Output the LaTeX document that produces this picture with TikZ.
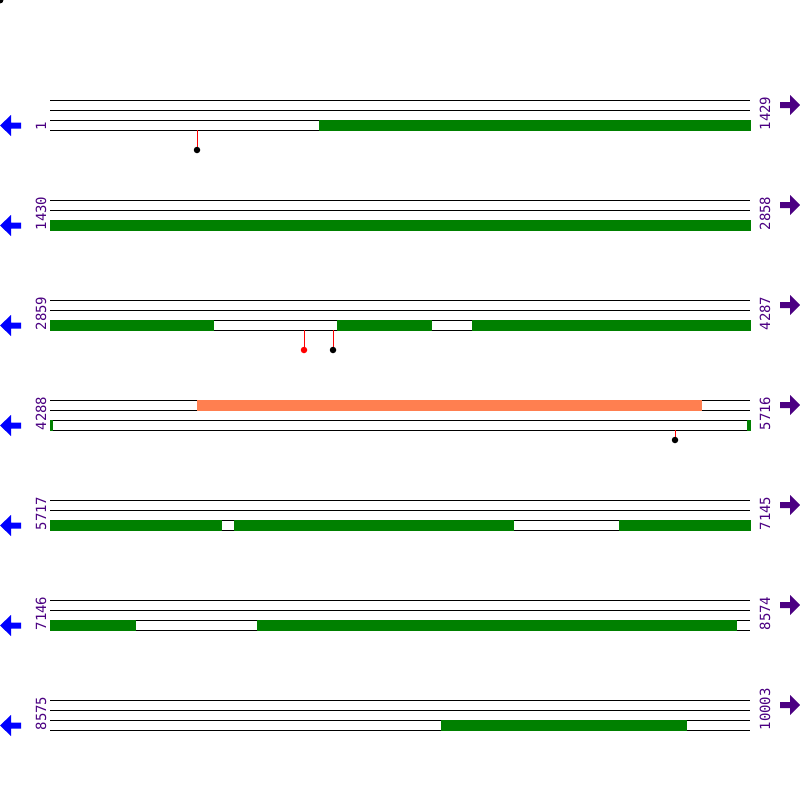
\documentclass[tikz,border=0pt]{standalone}
\usepackage{fontspec}
\newfontfamily\lblfont{DejaVu Sans Mono}
\definecolor{gr}{HTML}{008000}
\definecolor{orng}{HTML}{FF7F50}
\definecolor{purp}{HTML}{4B0082}
\definecolor{blu}{HTML}{0000FF}
\tikzset{
  lbl/.style={font=\lblfont\fontsize{14}{14}\selectfont, text=purp, inner sep=0pt, rotate=90, anchor=west},
  track/.style={line width=1pt, black},
  gbox/.style={fill=gr, draw=none},
  obox/.style={fill=orng, draw=none},
  stem/.style={red, line width=1pt},
  ldot/.style={circle, inner sep=0pt, minimum size=6.5pt},
  larr/.style={fill=blu, draw=none},
  rarr/.style={fill=purp, draw=none}
}
\begin{document}
\begin{tikzpicture}[x=1pt,y=-1pt]
\useasboundingbox (0,0) rectangle (800,800);
\fill[white] (0,0) rectangle (800,800);
\fill[black] (0,0) circle (3.5);
% tracks, arrows, labels
\foreach \k/\l/\r in {0/1/1429,1/1430/2858,2/2859/4287,3/4288/5716,4/5717/7145,5/7146/8574,6/8575/10003}{
  \pgfmathsetmacro{\yo}{100*\k}
  \begin{scope}[yshift={-\yo pt}]
    \foreach \y in {100,110,120,130} \draw[track] (50,\y) -- (750,\y);
    \fill[larr] (0,125.5) -- (11,115) -- (11,122.5) -- (21,122.5) -- (21,128.5) -- (11,128.5) -- (11,136) -- cycle;
    \fill[rarr] (800,105) -- (790,95) -- (790,102) -- (780,102) -- (780,108) -- (790,108) -- (790,115) -- cycle;
    \node[lbl] (L\k) at (41,130.5) {\l};
    \node[lbl] (R\k) at (765,130.5) {\r};
  \end{scope}
}
% row 1
\fill[gbox] (319,119.5) rectangle (751,130.5);
\draw[stem] (197,130) -- (197,150);
\node[ldot, fill=black] (d1) at (197,150) {};
% row 2
\fill[gbox] (50,219.5) rectangle (751,230.5);
% row 3
\fill[gbox] (50,319.5) rectangle (214,330.5);
\fill[gbox] (337,319.5) rectangle (432,330.5);
\fill[gbox] (472,319.5) rectangle (751,330.5);
\draw[stem] (304,330) -- (304,350);
\node[ldot, fill=red] (d2) at (304,350) {};
\draw[stem] (333,330) -- (333,350);
\node[ldot, fill=black] (d3) at (333,350) {};
% row 4
\fill[obox] (197,399.5) rectangle (702,410.5);
\fill[gbox] (50,419.5) rectangle (53,430.5);
\fill[gbox] (747,419.5) rectangle (751,430.5);
\draw[stem] (675,430) -- (675,440);
\node[ldot, fill=black] (d4) at (675,440) {};
% row 5
\fill[gbox] (50,519.5) rectangle (222,530.5);
\fill[gbox] (234,519.5) rectangle (514,530.5);
\fill[gbox] (619,519.5) rectangle (751,530.5);
% row 6
\fill[gbox] (50,619.5) rectangle (136,630.5);
\fill[gbox] (257,619.5) rectangle (737,630.5);
% row 7
\fill[gbox] (441,719.5) rectangle (687,730.5);
\end{tikzpicture}
\end{document}
